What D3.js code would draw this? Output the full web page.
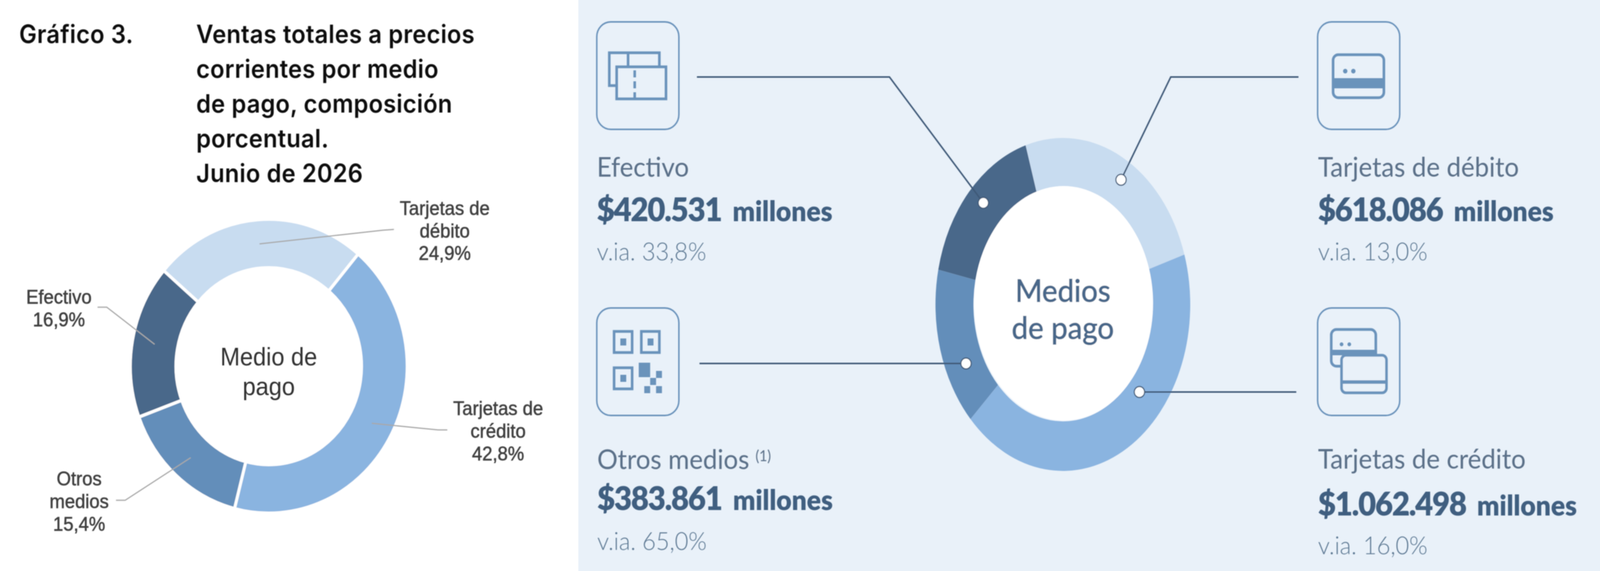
<!DOCTYPE html>
<html>
<head>
<meta charset="utf-8">
<script src="https://cdn.jsdelivr.net/npm/d3@7"></script>
<style>
  html, body { margin: 0; padding: 0; background: #fff; overflow: hidden; }
  svg { display: block; width: 100vw; height: 100vh; }
</style>
</head>
<body>
<!-- window can come out narrower than 4346, so the drawing is fitted to it -->
<svg id="graphsvg" viewBox="0 0 4346 1461" preserveAspectRatio="none"></svg>
<script>
'use strict';

// left chart: composition, percent
var shareLabels = [['Tarjetas de', 'débito'], ['Tarjetas de', 'crédito'], ['Otros', 'medios'], ['Efectivo']];
var sharePercent = [24.9, 42.8, 15.4, 16.9];
var titleLines = ['Ventas totales a precios', 'corrientes por medio', 'de pago, composición', 'porcentual.', 'Junio de 2026'];

// right chart: amounts in millions of pesos
var amountLabels = ['Tarjetas de débito', 'Tarjetas de crédito', 'Otros medios', 'Efectivo'];
var amountMillions = [618086, 1062498, 383861, 420531];
var amountText = ['$618.086', '$1.062.498', '$383.861', '$420.531'];
var yoyText = ['v.ia. 13,0%', 'v.ia. 16,0%', 'v.ia. 65,0%', 'v.ia. 33,8%'];

var colors = ['#c8dcf0', '#8ab4e0', '#638eba', '#49688a'];

var svg = d3.select('#graphsvg');
svg.append('rect').attr('width', 4346).attr('height', 1461).attr('fill', '#fff');
svg.append('rect').attr('x', 1571).attr('width', 2775).attr('height', 1461).attr('fill', '#e9f1f9');

var deg = Math.PI / 180;
var soft = svg.append('defs').append('filter').attr('id', 'soft');
soft.append('feGaussianBlur').attr('stdDeviation', 1.2);

function textLines(g, lines, x, ys, attrs) {
  lines.forEach(function (line, i) {
    var t = g.append('text').attr('x', x).attr('y', ys[i]).text(line);
    Object.keys(attrs).forEach(function (k) { t.attr(k, attrs[k]); });
  });
}

// ---- left panel ----
var left = svg.append('g').attr('filter', 'url(#soft)');
var titleFont = { 'font-family': 'Inter', 'font-weight': 600, 'font-size': 64, 'letter-spacing': 0.7, fill: '#0a0a0a' };
textLines(left, ['Gráfico 3.'], 52, [110], titleFont);
textLines(left, titleLines, 533, [110, 199, 288, 377, 466], titleFont);

var leftPie = d3.pie().sort(null).value(function (d) { return d; })
  .startAngle(-49.4 * deg).endAngle(310.6 * deg);
var leftArc = d3.arc().innerRadius(252).outerRadius(376);
left.append('g').attr('transform', 'translate(730,937)')
  .selectAll('path').data(leftPie(sharePercent)).enter().append('path')
  .attr('d', leftArc)
  .attr('fill', function (d, i) { return colors[i]; })
  .attr('stroke', '#fff').attr('stroke-width', 8);

var greyLeaders = [
  [[705, 624], [1040, 589], [1070, 587]],
  [[1010, 1083], [1190, 1100], [1215, 1100]],
  [[518, 1171], [340, 1280], [315, 1280]],
  [[420, 881], [290, 786], [265, 786]]
];
left.selectAll('path.leader').data(greyLeaders).enter().append('path')
  .attr('class', 'leader')
  .attr('d', d3.line())
  .attr('fill', 'none').attr('stroke', '#a8a8a8').attr('stroke-width', 3);

var labelSpots = [
  { x: 1208, y: [550, 608, 665] },
  { x: 1353, y: [1062, 1120, 1178] },
  { x: 215, y: [1242, 1300, 1358] },
  { x: 160, y: [777, 835] }
];
var labelFont = {
  'font-family': 'Liberation Sans', 'font-size': 50, fill: '#404040', 'text-anchor': 'middle',
  stroke: '#404040', 'stroke-width': 1
};
shareLabels.forEach(function (lines, i) {
  var pct = d3.format('.1f')(sharePercent[i]).replace('.', ',') + '%';
  textLines(left, lines.concat([pct]), labelSpots[i].x, labelSpots[i].y, labelFont);
});
textLines(left, ['Medio de', 'pago'], 730, [935, 1011], {
  'font-family': 'Liberation Sans', 'font-size': 64, fill: '#333', 'text-anchor': 'middle'
});

// ---- right panel ----
var right = svg.append('g').attr('filter', 'url(#soft)');
var rightPie = d3.pie().sort(null).value(function (d) { return d; })
  .startAngle(-17 * deg).endAngle(343 * deg);
var rightArc = d3.arc().innerRadius(243).outerRadius(346);
// the ring is stretched vertically in the original
right.append('g').attr('transform', 'translate(2887,779) scale(1,1.231)')
  .selectAll('path').data(rightPie(amountMillions)).enter().append('path')
  .attr('d', rightArc)
  .attr('fill', function (d, i) { return colors[i]; });
right.append('ellipse').attr('cx', 2889).attr('cy', 776).attr('rx', 243).attr('ry', 300).attr('fill', '#fff');

textLines(right, ['Medios', 'de pago'], 2887, [772, 867], {
  'font-family': 'Lato', 'font-size': 80, fill: '#49688a', 'text-anchor': 'middle',
  stroke: '#49688a', 'stroke-width': 1.5
});

var darkLeaders = [
  [[3527, 197], [3180, 197], [3045, 460]],
  [[3521, 1003], [3095, 1003]],
  [[1900, 930], [2624, 930]],
  [[1893, 197], [2416, 197], [2671, 519]]
];
right.selectAll('path.leader').data(darkLeaders).enter().append('path')
  .attr('class', 'leader')
  .attr('d', d3.line())
  .attr('fill', 'none').attr('stroke', '#3f5a78').attr('stroke-width', 4);
right.selectAll('circle.dot').data(darkLeaders).enter().append('circle')
  .attr('class', 'dot')
  .attr('cx', function (d) { return d[d.length - 1][0]; })
  .attr('cy', function (d) { return d[d.length - 1][1]; })
  .attr('r', 14).attr('fill', '#fff').attr('stroke', '#3f5a78').attr('stroke-width', 3);

var blocks = [
  { x: 3580, box: 3579, boxY: 56, y: [452, 566, 666] },
  { x: 3580, box: 3579, boxY: 788, y: [1199, 1319, 1418] },
  { x: 1622, box: 1621, boxY: 788, y: [1200, 1305, 1407] },
  { x: 1621, box: 1621, boxY: 56, y: [452, 566, 666] }
];
var iconBlue = '#6a93bb';

blocks.forEach(function (b, i) {
  right.append('rect').attr('x', b.box).attr('y', b.boxY).attr('width', 223).attr('height', 275).attr('rx', 38)
    .attr('fill', 'none').attr('stroke', iconBlue).attr('stroke-width', 4);
  right.append('text').attr('x', b.x).attr('y', b.y[0]).text(amountLabels[i])
    .attr('font-family', 'Lato').attr('font-size', 70).attr('fill', '#5c7189');
  var value = right.append('text').attr('x', b.x).attr('y', b.y[1])
    .attr('font-family', 'Lato').attr('font-weight', 800).attr('fill', '#3f5f80');
  value.append('tspan').attr('font-size', 84).attr('letter-spacing', -2.8).text(amountText[i]);
  value.append('tspan').attr('font-size', 72).attr('dx', 30).text('millones');
  right.append('text').attr('x', b.x).attr('y', b.y[2]).text(yoyText[i])
    .attr('font-family', 'Lato').attr('font-weight', 300).attr('font-size', 64).attr('fill', '#5f7a94');
});
right.append('text').attr('x', 2052).attr('y', 1180).text('(1)')
  .attr('font-family', 'Lato').attr('font-size', 38).attr('fill', '#5c7189');

// ---- icons ----
function icon() {
  return right.append('g').attr('fill', 'none').attr('stroke', iconBlue).attr('stroke-width', 7);
}
function filled(g, x, y, w, h) {
  g.append('rect').attr('x', x).attr('y', y).attr('width', w).attr('height', h)
    .attr('fill', iconBlue).attr('stroke', 'none');
}

// notes
var cash = icon();
cash.append('path').attr('d', 'M1675,219H1655V135H1791V171');
cash.append('rect').attr('x', 1675).attr('y', 171).attr('width', 134).attr('height', 82);
cash.append('path').attr('d', 'M1706,135V171M1724,180V198M1724,208V226M1724,236V250');

// qr
var qr = icon();
[[1668, 848], [1742, 848], [1668, 941]].forEach(function (p) {
  qr.append('rect').attr('x', p[0]).attr('y', p[1]).attr('width', 49).attr('height', 54);
  filled(qr, p[0] + 17, p[1] + 18, 16, 18);
});
filled(qr, 1735, 928, 31, 37);
[[1782, 949], [1766, 967], [1750, 988], [1782, 988]].forEach(function (p) {
  filled(qr, p[0], p[1], 16, 18);
});

// debit card
var debit = icon();
debit.append('rect').attr('x', 3621).attr('y', 140).attr('width', 138).attr('height', 110).attr('rx', 14);
filled(debit, 3621, 200, 138, 26);
debit.append('circle').attr('cx', 3654).attr('cy', 182).attr('r', 6).attr('fill', iconBlue).attr('stroke', 'none');
debit.append('circle').attr('cx', 3676).attr('cy', 182).attr('r', 6).attr('fill', iconBlue).attr('stroke', 'none');

// credit cards
var credit = icon();
credit.append('rect').attr('x', 3616).attr('y', 843).attr('width', 121).attr('height', 94).attr('rx', 14);
filled(credit, 3616, 895, 121, 14);
credit.append('circle').attr('cx', 3644).attr('cy', 881).attr('r', 5).attr('fill', iconBlue).attr('stroke', 'none');
credit.append('circle').attr('cx', 3665).attr('cy', 881).attr('r', 5).attr('fill', iconBlue).attr('stroke', 'none');
credit.append('rect').attr('x', 3644).attr('y', 909).attr('width', 122).attr('height', 96).attr('rx', 12).attr('fill', '#e9f1f9');
filled(credit, 3644, 973, 122, 9);
</script>
</body>
</html>
